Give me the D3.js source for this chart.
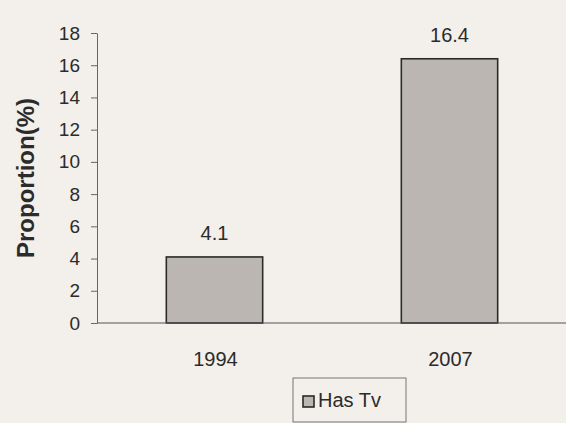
<!DOCTYPE html>
<html><head><meta charset="utf-8">
<script src="https://cdn.jsdelivr.net/npm/d3@7"></script>
<style>body{margin:0;background:#f3efea;}svg{display:block;font-family:"Liberation Sans",Arial,sans-serif;}</style>
</head><body>
<svg id="c" width="566" height="423"></svg>
<script>
const categories = ["1994", "2007"];
const values = [4.1, 16.4];
const valueLabels = ["4.1", "16.4"];
const yTicks = [0, 2, 4, 6, 8, 10, 12, 14, 16, 18];
const seriesName = "Has Tv";
const yTitle = "Proportion(%)";

const svg = d3.select("#c");
svg.append("rect").attr("width",566).attr("height",423).attr("fill","#f3efea");

const x = d3.scaleBand().domain(categories).range([97, 567]).paddingInner(0.59).paddingOuter(0.295);
const y = d3.scaleLinear().domain([0, 18]).range([323, 33]);

// bars
svg.selectAll("rect.bar").data(values).join("rect").attr("class","bar")
  .attr("x",(d,i)=>x(categories[i])).attr("width",x.bandwidth())
  .attr("y",d=>y(d)).attr("height",d=>y(0)-y(d))
  .attr("fill","#bbb6b1").attr("stroke","#2a2a2a").attr("stroke-width",1.6);

// y axis
const ya = svg.append("g").attr("transform","translate(97,0)")
  .call(d3.axisLeft(y).tickValues(yTicks).tickSize(6).tickPadding(11).tickSizeOuter(0));
ya.select(".domain").attr("stroke","#666");
ya.selectAll(".tick line").attr("stroke","#666");
ya.selectAll("text").attr("font-size",19).attr("fill","#2b2b2b").attr("font-family","Liberation Sans, Arial, sans-serif");

// x axis line
svg.append("line").attr("x1",97).attr("x2",566).attr("y1",y(0)).attr("y2",y(0)).attr("stroke","#555").attr("stroke-width",1.2);

// category labels
svg.selectAll("text.cat").data(categories).join("text").attr("class","cat")
  .attr("x",d=>x(d)+x.bandwidth()/2+1).attr("y",366)
  .attr("text-anchor","middle").attr("font-size",20).attr("fill","#2b2b2b").text(d=>d);

// value labels
svg.selectAll("text.val").data(values).join("text").attr("class","val")
  .attr("x",(d,i)=>x(categories[i])+x.bandwidth()/2).attr("y",d=>y(d)-17)
  .attr("text-anchor","middle").attr("font-size",20).attr("fill","#2b2b2b").text((d,i)=>valueLabels[i]);

// y title
svg.append("text").attr("transform","translate(34,178) rotate(-90)")
  .attr("text-anchor","middle").attr("font-size",24).attr("font-weight","bold").attr("fill","#2b2b2b").text(yTitle);

// legend
const lg = svg.append("g");
lg.append("rect").attr("x",293).attr("y",378).attr("width",113).attr("height",44).attr("fill","none").attr("stroke","#777").attr("stroke-width",1);
lg.append("rect").attr("x",303).attr("y",396).attr("width",11).attr("height",11).attr("fill","#bbb6b1").attr("stroke","#2a2a2a").attr("stroke-width",1.6);
lg.append("text").attr("x",318).attr("y",407).attr("font-size",20).attr("fill","#2b2b2b").text(seriesName);
</script>
</body></html>
